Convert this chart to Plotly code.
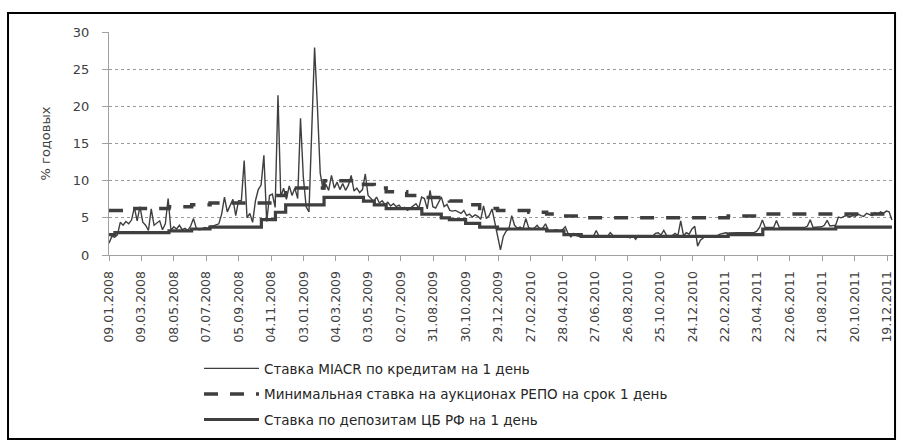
import pandas as pd
from plotly import graph_objects as go

# Overnight MIACR at an even spacing (about every 5 days)
MIACR_FIRST = "2008-01-09"
MIACR_LAST = "2011-12-28"
MIACR = [
    1.6, 2.5, 2.4, 2.7, 4.4, 4.0, 4.5, 4.2, 4.7, 6.4,
    4.6, 6.5, 4.4, 4.0, 3.3, 6.2, 4.0, 4.3, 4.6, 3.4,
    4.2, 7.6, 3.3, 3.8, 3.5, 4.0, 3.4, 3.6, 3.3, 3.9,
    4.9, 3.6, 3.4, 3.5, 3.7, 3.6, 3.9, 3.9, 4.0, 4.2,
    5.5, 7.8, 5.8, 6.7, 7.5, 5.3, 7.3, 7.3, 12.7, 5.0,
    5.6, 4.4, 7.3, 8.8, 9.4, 13.4, 4.5, 8.0, 8.2, 6.4,
    21.5, 7.8, 9.0, 7.5, 9.3, 8.0, 9.0, 7.6, 18.4, 10.5,
    6.5, 5.8, 16.0, 27.9, 20.0, 11.0, 8.8, 9.5, 8.7, 10.7,
    9.0, 9.8, 8.8, 9.6, 8.7, 9.4, 10.7, 8.6, 9.0, 8.4,
    8.8, 10.9, 8.0, 7.6, 7.2, 7.8, 7.0, 7.3, 6.8, 7.1,
    6.6, 6.9, 6.5, 6.7, 6.2, 6.4, 6.0, 6.3, 6.6, 6.9,
    6.3, 7.8, 7.6, 6.2, 8.7, 6.5, 6.3, 7.0, 7.8, 6.5,
    6.8, 6.0, 5.9, 6.0, 5.8, 5.6, 6.0, 5.3, 5.5, 5.1,
    5.4, 5.2, 4.8, 6.6, 4.9, 5.3, 6.2, 4.2, 2.4, 0.7,
    2.5, 3.2, 3.5, 5.3, 4.0, 3.6, 3.75, 3.5, 4.9, 3.7,
    3.5, 3.6, 4.0, 3.5, 3.6, 4.2, 3.3, 3.2, 3.3, 3.4,
    3.2, 3.4, 3.8, 2.9, 2.45, 2.9, 2.6, 2.5, 2.6, 2.5,
    2.6, 2.5, 2.5, 3.3, 2.5, 2.5, 2.45, 2.5, 3.0, 2.6,
    2.5, 2.6, 2.4, 2.6, 2.5, 2.3, 2.6, 2.1, 2.6, 2.5,
    2.6, 2.5, 2.6, 2.5, 2.9, 3.0, 2.7, 3.3, 2.6, 2.5,
    2.6, 2.9, 2.6, 4.6, 2.6, 3.0, 2.8, 3.5, 3.85, 1.2,
    2.0, 2.3, 2.6, 2.6, 2.6, 2.7, 2.6, 2.8, 2.9, 3.0,
    2.95, 3.0, 2.95, 3.0, 3.0, 2.95, 3.0, 3.0, 3.0, 3.0,
    3.2, 3.7, 4.7, 3.7, 3.7, 3.75, 3.7, 4.65, 3.7, 3.7,
    3.75, 3.7, 3.7, 3.75, 3.7, 3.7, 3.75, 3.7, 3.9, 4.75,
    3.7, 3.75, 3.7, 3.8, 4.0, 4.65, 3.9, 3.9, 4.0, 5.1,
    5.0, 5.2, 5.3, 5.1, 5.3, 5.2, 5.5, 5.3, 5.2, 5.6,
    5.5, 5.3, 5.7, 5.5, 5.8, 5.6, 5.9, 5.8, 4.7,
]

# Minimum rate at 1-day REPO auctions (date the rate took effect)
REPO_DATES = [
    "2008-01-09", "2008-02-04", "2008-04-29", "2008-06-10", "2008-07-14",
    "2008-11-12", "2008-12-01", "2009-02-10", "2009-04-24", "2009-05-14",
    "2009-06-05", "2009-07-13", "2009-08-10", "2009-09-15", "2009-09-30",
    "2009-10-30", "2009-11-25", "2009-12-28", "2010-02-24", "2010-03-29",
    "2010-04-30", "2010-06-01", "2011-02-28", "2011-05-03", "2011-12-28",
]
REPO = [
    6.0, 6.25, 6.5, 6.75, 7.0,
    8.0, 9.0, 10.0, 9.5, 9.0,
    8.5, 8.0, 7.75, 7.5, 7.25,
    6.75, 6.25, 6.0, 5.75, 5.5,
    5.25, 5.0, 5.25, 5.5, 5.5,
]

# Bank of Russia overnight deposit rate
DEPOSIT_DATES = [
    "2008-01-09", "2008-01-20", "2008-04-29", "2008-06-10", "2008-07-14",
    "2008-10-17", "2008-11-12", "2008-12-01", "2009-02-10", "2009-04-24",
    "2009-05-14", "2009-06-05", "2009-08-10", "2009-09-15", "2009-09-30",
    "2009-10-30", "2009-11-25", "2009-12-28", "2010-03-29", "2010-04-30",
    "2010-06-01", "2011-02-28", "2011-05-03", "2011-09-15", "2011-12-28",
]
DEPOSIT = [
    2.75, 3.0, 3.25, 3.5, 3.75,
    4.75, 5.75, 6.75, 7.75, 7.25,
    6.75, 6.25, 5.5, 5.0, 4.75,
    4.25, 3.75, 3.5, 3.25, 2.75,
    2.5, 2.75, 3.5, 3.75, 3.75,
]

# x axis labels, one every 60 days as on the source chart
TICK_FIRST = "2008-01-09"
TICK_COUNT = 25

NAMES = [
    "Ставка MIACR по кредитам на 1 день",
    "Минимальная ставка на аукционах РЕПО на срок 1 день",
    "Ставка по депозитам ЦБ РФ на 1 день",
]

LINE_COLOR = "#3f3f3f"
AXIS_COLOR = "#a0a0a0"
FONT = "DejaVu Sans"


def make_figure():
    """ Build the three rate lines with the legend below the plot. """
    miacr_dates = pd.date_range(MIACR_FIRST, MIACR_LAST, periods=len(MIACR))
    ticks = pd.date_range(TICK_FIRST, periods=TICK_COUNT, freq="60D")

    fig = go.Figure()
    fig.add_trace(
        go.Scatter(
            x=miacr_dates, y=MIACR, mode="lines", name=NAMES[0],
            legendgroup="a", line={"color": LINE_COLOR, "width": 1.4},
        )
    )
    fig.add_trace(
        go.Scatter(
            x=pd.to_datetime(REPO_DATES), y=REPO, mode="lines", name=NAMES[1],
            legendgroup="b",
            line={"color": LINE_COLOR, "width": 3.5, "dash": "14px,12px", "shape": "hv"},
        )
    )
    fig.add_trace(
        go.Scatter(
            x=pd.to_datetime(DEPOSIT_DATES), y=DEPOSIT, mode="lines", name=NAMES[2],
            legendgroup="c",
            line={"color": LINE_COLOR, "width": 3.2, "shape": "hv"},
        )
    )

    fig.update_layout(
        width=903,
        height=441,
        # fixed margins: the legend must not shrink the plot
        margin={"l": 109, "r": 10, "t": 32, "b": 186, "autoexpand": False},
        paper_bgcolor="white",
        plot_bgcolor="white",
        font={"family": FONT, "size": 12, "color": "#404040"},
        showlegend=True,
        legend={
            "x": 0.1148, "xanchor": "left", "y": -0.44, "yanchor": "top",
            "font": {"size": 13.5, "color": "#262626"},
            "tracegroupgap": 5, "itemwidth": 55,
            "bgcolor": "rgba(0,0,0,0)",
        },
    )
    fig.update_xaxes(
        type="date",
        range=[TICK_FIRST, "2011-12-30"],
        tickvals=ticks,
        tickformat="%d.%m.%Y",
        tickangle=-90,
        tickfont={"size": 12.5},
        showgrid=False,
        showline=True,
        linecolor=AXIS_COLOR,
        ticks="outside",
        ticklen=5,
        tickcolor=AXIS_COLOR,
        ticklabelstandoff=5,
        zeroline=False,
        automargin=False,
    )
    fig.update_yaxes(
        range=[0, 30],
        dtick=5,
        tickfont={"size": 13},
        showgrid=True,
        gridcolor="#9a9a9a",
        griddash="dot",
        showline=True,
        linecolor=AXIS_COLOR,
        ticks="outside",
        ticklen=6,
        tickcolor=AXIS_COLOR,
        ticklabelstandoff=10,
        zeroline=False,
        automargin=False,
        title={"text": "% годовых", "font": {"size": 13}, "standoff": 19},
    )
    # frame round the whole picture
    fig.add_shape(
        type="rect", xref="paper", yref="paper",
        x0=-0.1288, x1=1.0026, y0=-0.825, y1=1.085,
        line={"color": "black", "width": 2},
    )
    return fig


fig = make_figure()
# drop the page margin so the figure sits at the window's top-left corner
fig.write_html(
    "out.html",
    config={"displayModeBar": False},
    post_script="document.body.style.margin = '0';",
)
